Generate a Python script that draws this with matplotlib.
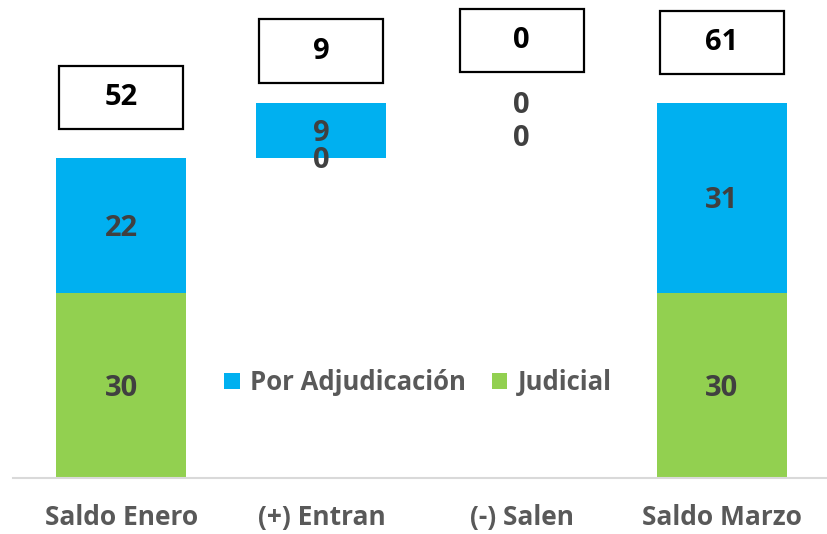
import matplotlib.pyplot as plt
from matplotlib.patches import Rectangle

# data
categories = ['Saldo Enero', '(+) Entran', '(-) Salen', 'Saldo Marzo']
base = [0, 52, 61, 0]          # invisible waterfall base
judicial = [30, 0, 0, 30]
adjudicacion = [22, 9, 0, 31]
totals = [52, 9, 0, 61]

blue = '#00B0F0'
green = '#92D050'
label_color = '#404040'
axis_text = '#595959'

plt.rcParams['font.family'] = ['Open Sans', 'DejaVu Sans']
plt.rcParams['font.weight'] = 'bold'

fig = plt.figure(figsize=(8.27, 5.34), dpi=100)
ax = fig.add_axes([13 / 827, 56 / 534, 814 / 827, 478 / 534])

x = list(range(len(categories)))
w = 0.65
ax.bar(x, judicial, w, bottom=base, color=green, label='Judicial')
bottom2 = [b + j for b, j in zip(base, judicial)]
ax.bar(x, adjudicacion, w, bottom=bottom2, color=blue, label='Por Adjudicación')

# segment labels
fs = 21
for i in x:
    jy = base[i] + judicial[i] / 2
    ay = bottom2[i] + adjudicacion[i] / 2
    j_off = -26 if i == 2 else -2
    ax.annotate(str(judicial[i]), (i, jy), xytext=(0, j_off), textcoords='offset points',
                ha='center', va='center', fontsize=fs, fontweight='bold', color=label_color)
    ax.annotate(str(adjudicacion[i]), (i, ay), xytext=(0, -2), textcoords='offset points',
                ha='center', va='center', fontsize=fs, fontweight='bold', color=label_color)

# total boxes above each bar
box_offset = [9.9, 8.4, 10.1, 9.8]
box_w, box_h = 0.62, 10.3
for i in x:
    top = bottom2[i] + adjudicacion[i]
    cy = top + box_offset[i]
    ax.add_patch(Rectangle((i - box_w / 2, cy - box_h / 2), box_w, box_h,
                           facecolor='white', edgecolor='black', lw=1.6, zorder=3))
    ax.text(i, cy, str(totals[i]), ha='center', va='center', fontsize=fs,
            fontweight='bold', color='black', zorder=4)

ax.set_xlim(-0.54, 3.525)
ax.set_ylim(0, 77.7)
ax.set_xticks(x)
ax.set_xticklabels(categories, fontsize=19, fontweight='bold', color=axis_text)
ax.tick_params(axis='x', length=0, pad=19)
ax.set_yticks([])
for s in ['top', 'right', 'left']:
    ax.spines[s].set_visible(False)
ax.spines['bottom'].set_color('#D9D9D9')
ax.spines['bottom'].set_linewidth(1.5)

handles, labels = ax.get_legend_handles_labels()
leg = ax.legend(handles[::-1], labels[::-1], loc='center', bbox_to_anchor=(0.4975, 0.2),
                ncol=2, frameon=False, fontsize=18.5, handlelength=0.6, handleheight=0.6,
                handletextpad=0.4, columnspacing=1.0)
for t in leg.get_texts():
    t.set_color(axis_text)
    t.set_fontweight('bold')

fig.savefig('out.png', dpi=100)
